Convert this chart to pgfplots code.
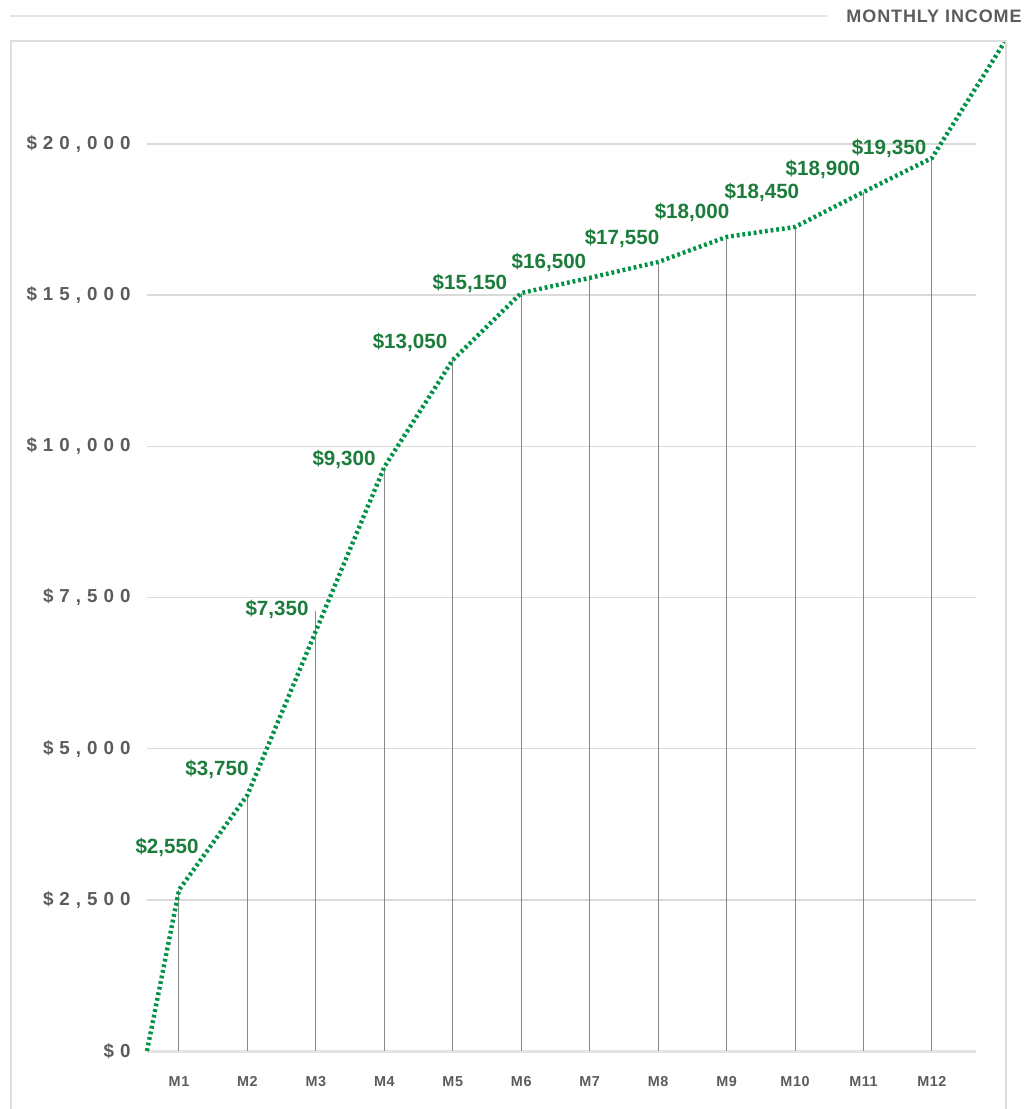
\documentclass[border=0pt]{standalone}
\usepackage{pgfplots}
\pgfplotsset{compat=1.18}
\usepackage{pgfplotstable}
\usepackage{fontspec}
\setmainfont{Liberation Sans}
\newfontfamily\tickfont{Liberation Sans}[LetterSpace=32]
\newfontfamily\xtickfont{Liberation Sans}[LetterSpace=4]
\newfontfamily\titlefont{Liberation Sans}[LetterSpace=5]
\definecolor{lineg}{RGB}{0,146,69}
\definecolor{labg}{RGB}{28,124,60}
\definecolor{tickg}{RGB}{92,92,92}
\definecolor{gridg}{RGB}{218,218,218}
\definecolor{axisg}{RGB}{228,228,228}
\definecolor{dropg}{RGB}{135,135,135}
\definecolor{boxg}{RGB}{222,222,222}

% values in thousands of dollars
\pgfplotstableread{
x y
0.5325 0
1 2.663
2 4.234
3 6.946
4 9.658
5 12.855
6 15.070
7 15.570
8 16.095
9 16.925
10 17.255
11 18.410
12 19.535
13.07 23.405
}\linedata

\pgfplotstableread{
x y
1 2.663
2 4.234
3 7.277
4 9.658
5 12.855
6 15.070
7 15.570
8 16.095
9 16.925
10 17.255
11 18.410
12 19.535
}\dropdata

\pgfplotstableread{
x y label
0.825 3.373 2,550
1.555 4.663 3,750
2.432 7.310 7,350
3.411 9.790 9,300
4.375 13.450 13,050
5.251 15.370 15,150
6.405 16.095 16,500
7.472 16.890 17,550
8.495 17.750 18,000
9.517 18.380 18,450
10.408 19.140 18,900
11.373 19.865 19,350
}\labeldata

\begin{document}
\begin{tikzpicture}
\useasboundingbox (-73.5pt,-29pt) rectangle (441pt,525.5pt);
\begin{axis}[
  scale only axis,
  width=414.5pt, height=505pt,
  xmin=0.5325, xmax=12.644,
  ymin=0, ymax=23.405,
  y coord trafo/.code={\pgfmathparse{min(#1,10)/2.5+max(#1-10,0)/5}},
  y coord inv trafo/.code={\pgfmathparse{min(#1,4)*2.5+max(#1-4,0)*5}},
  clip=false,
  axis x line*=bottom, axis y line*=left,
  x axis line style={draw=axisg, line width=1.5pt, -},
  y axis line style={draw=none},
  major tick length=0pt,
  xtick={1,2,3,4,5,6,7,8,9,10,11,12},
  xticklabels={M1,M2,M3,M4,M5,M6,M7,M8,M9,M10,M11,M12},
  ytick={0,2.5,5,7.5,10,15,20},
  yticklabels={{\$0},{\$2,500},{\$5,000},{\$7,500},{\$10,000},{\$15,000},{\$20,000}},
  ymajorgrids,
  grid style={draw=gridg, line width=0.75pt},
  yticklabel style={font=\tickfont\bfseries\fontsize{9.4}{11}\selectfont, text=tickg, anchor=east, inner sep=0pt, xshift=-8pt},
  xticklabel style={font=\xtickfont\bfseries\fontsize{7.2}{9}\selectfont, text=tickg, anchor=base, inner sep=0pt, yshift=-17.5pt},
]
\addplot[ycomb, draw=dropg, line width=0.5pt, mark=none] table[x=x, y=y] {\dropdata};
\addplot[draw=lineg, line width=2.2pt, dash pattern=on 1.4pt off 1.45pt, mark=none] table[x=x, y=y] {\linedata};
\addplot[draw=none, mark=none, nodes near coords={\$\pgfplotspointmeta},
  point meta=explicit symbolic,
  every node near coord/.style={anchor=center, inner sep=0pt, text=labg, font=\bfseries\fontsize{10.3}{12}\selectfont}]
  table[x=x, y=y, meta=label] {\labeldata};
\end{axis}
\draw[boxg, line width=0.75pt] (-68pt,-29pt) -- (-68pt,505pt) -- (429.5pt,505pt) -- (429.5pt,-29pt);
\draw[axisg, line width=0.75pt] (-68.5pt,517.5pt) -- (340pt,517.5pt);
\node[anchor=east, inner sep=0pt, text=tickg, font=\titlefont\bfseries\fontsize{9}{11}\selectfont] at (437.5pt,517.5pt) {MONTHLY INCOME};
\end{tikzpicture}
\end{document}
